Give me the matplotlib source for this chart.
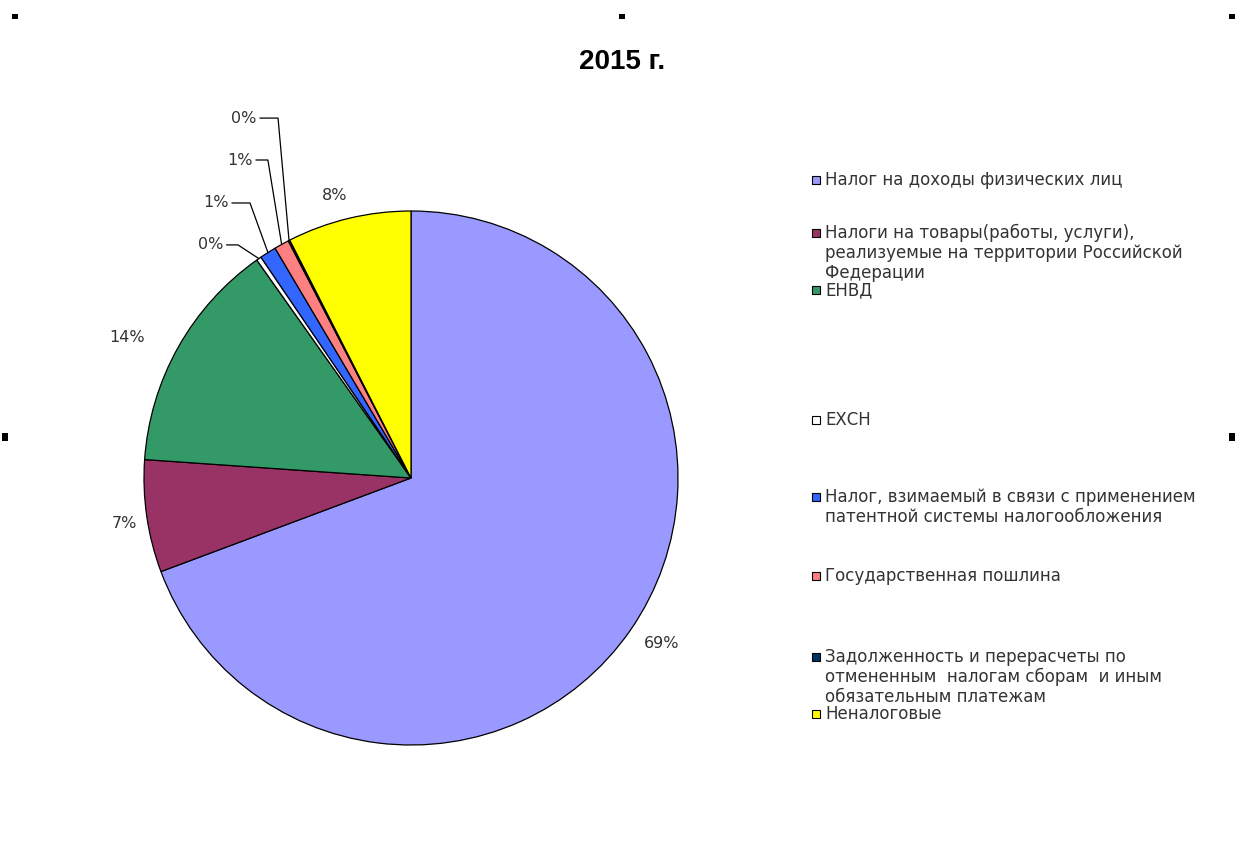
import numpy as np
import matplotlib
matplotlib.use("Agg")
import matplotlib.pyplot as plt
from matplotlib.patches import Rectangle

## Структура доходов, 2015 г.

title = "2015 г."

categories = [
    "Налог на доходы физических лиц",
    "Налоги на товары(работы, услуги),\nреализуемые на территории Российской\nФедерации",
    "ЕНВД",
    "ЕХСН",
    "Налог, взимаемый в связи с применением\nпатентной системы налогообложения",
    "Государственная пошлина",
    "Задолженность и перерасчеты по\nотмененным  налогам сборам  и иным\nобязательным платежам",
    "Неналоговые",
]
shares = [69.3, 6.8, 14.1, 0.3, 1.0, 0.9, 0.1, 7.5]
pct_labels = ["69%", "7%", "14%", "0%", "1%", "1%", "0%", "8%"]
colors = ["#9999FF", "#993366", "#339966", "#FFFFFF",
          "#3366FF", "#FF8080", "#003366", "#FFFF00"]

# big slices: (distance, angle shift in deg) for the label
big = {0: (1.125, 1.4), 1: (1.085, 0.7), 2: (1.185, 3.0), 7: (1.095, 1.7)}
# small slices get labels with leader lines (text pos, elbow pos)
small = {3: ((-0.75, 0.873), (-0.648, 0.873)),
         4: ((-0.73, 1.030), (-0.603, 1.030)),
         5: ((-0.64, 1.191), (-0.536, 1.191)),
         6: ((-0.625, 1.348), (-0.498, 1.348))}

W, H = 1238, 841
fig = plt.figure(figsize=(W / 100, H / 100), dpi=100)
fig.patch.set_facecolor("white")

# pie centre (411, 478) px, radius 267 px
r_px = 267
ax = fig.add_axes([(411 - r_px) / W, (H - 478 - r_px) / H, 2 * r_px / W, 2 * r_px / H])
wedges, _ = ax.pie(shares, colors=colors, startangle=90, counterclock=False,
                   wedgeprops=dict(edgecolor="black", linewidth=0.9))
ax.set_xlim(-1, 1)
ax.set_ylim(-1, 1)
ax.set_aspect("equal")
ax.axis("off")

lab_font = dict(family="DejaVu Sans", fontsize=11.5, color="#333333")
for i, w in enumerate(wedges):
    mid = np.deg2rad((w.theta1 + w.theta2) / 2)
    if i in small:
        (tx, ty), (ex, ey) = small[i]
        ax.text(tx, ty, pct_labels[i], ha="center", va="center", clip_on=False, **lab_font)
        ax.plot([tx + 0.06, ex, np.cos(mid)], [ty, ey, np.sin(mid)],
                color="black", lw=0.9, clip_on=False)
    else:
        d, shift = big[i]
        a = mid + np.deg2rad(shift)
        ax.text(d * np.cos(a), d * np.sin(a), pct_labels[i], ha="center",
                va="center", clip_on=False, **lab_font)

fig.text(622 / W, 1 - 62 / H, title, ha="center", va="center",
         family="Liberation Sans", fontweight="bold", fontsize=20)

# legend, drawn by hand to keep Excel-like spacing
leg_y = [180, 233, 290, 420, 497, 576, 657, 714]
for lab, col, y in zip(categories, colors, leg_y):
    fig.patches.append(Rectangle((812 / W, 1 - (y + 4) / H), 8 / W, 8 / H,
                                 transform=fig.transFigure, facecolor=col,
                                 edgecolor="black", linewidth=0.8))
    fig.text(825 / W, 1 - (y - 9) / H, lab, ha="left", va="top",
             family="DejaVu Sans", fontsize=12, color="#333333", linespacing=1.14)

# selection handles of the chart frame
for x, y, w, h in [(12, 14, 6, 5), (619, 14, 6, 5), (1229, 14, 6, 5),
                   (2, 433, 6, 8), (1229, 433, 6, 8)]:
    fig.patches.append(Rectangle((x / W, 1 - (y + h) / H), w / W, h / H,
                                 transform=fig.transFigure, facecolor="black",
                                 edgecolor="none"))

plt.savefig("out.png", dpi=100)
